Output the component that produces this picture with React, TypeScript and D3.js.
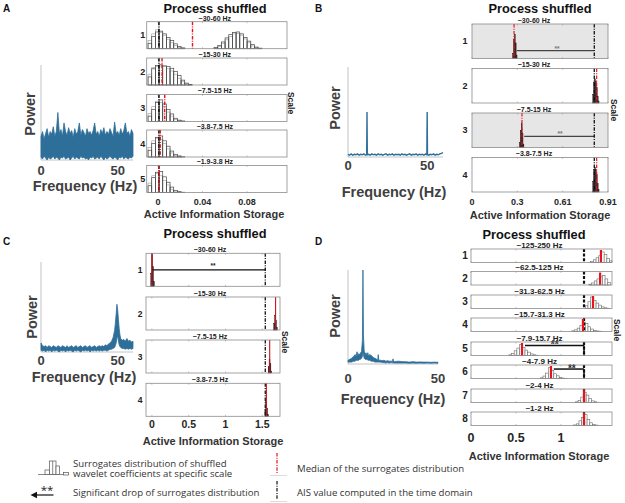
import React from 'react';
import * as d3 from 'd3';

const W = 625;
const H = 503;
const BLUE = '#2e6f9a';
const HELV = '"Liberation Sans", Arial, Helvetica, sans-serif';
const LEG = '"Open Sans", "DejaVu Sans", sans-serif';
const DASHDOT = '3.5,1.3,1,1.3';

// ---------- power spectra ----------
// A: white-noise like band, 1 Hz grid from 0 to 60 Hz
const specAHi = [0.25, 0.3, 0.22, 0.28, 0.33, 0.24, 0.3, 0.27, 0.35, 0.25,
  0.3, 0.5, 0.28, 0.32, 0.25, 0.39, 0.3, 0.26, 0.34, 0.28,
  0.31, 0.24, 0.33, 0.27, 0.3, 0.39, 0.26, 0.32, 0.29, 0.25,
  0.33, 0.28, 0.3, 0.26, 0.31, 0.39, 0.27, 0.3, 0.25, 0.32,
  0.28, 0.34, 0.26, 0.3, 0.27, 0.33, 0.29, 0.25, 0.4, 0.28,
  0.3, 0.26, 0.33, 0.27, 0.31, 0.39, 0.28, 0.3, 0.25, 0.32, 0.28];
const specALo = [0.03, 0.01, 0.04, 0.02, 0.0, 0.03, 0.01, 0.02, 0.04, 0.01,
  0.03, 0.02, 0.0, 0.03, 0.02, 0.04, 0.01, 0.02, 0.03, 0.0,
  0.02, 0.04, 0.01, 0.03, 0.02, 0.01, 0.04, 0.02, 0.03, 0.01,
  0.02, 0.0, 0.03, 0.02, 0.04, 0.01, 0.02, 0.03, 0.01, 0.04,
  0.02, 0.0, 0.03, 0.01, 0.02, 0.04, 0.02, 0.01, 0.03, 0.02,
  0.0, 0.03, 0.02, 0.04, 0.01, 0.03, 0.02, 0.01, 0.03, 0.02, 0.04];

// B: two sharp lines at ~12 and 50 Hz  [freq, power]
const specB: [number, number][] = [
  [0, 0.03], [1, 0.02], [2, 0.035], [3, 0.02], [4, 0.03], [5, 0.025], [6, 0.035], [7, 0.02], [8, 0.03], [9, 0.025],
  [10, 0.035], [11, 0.02], [11.8, 0.03], [12, 0.5], [12.2, 0.025], [13, 0.03], [14, 0.02], [15, 0.035], [16, 0.025],
  [17, 0.03], [18, 0.02], [19, 0.035], [20, 0.025], [21, 0.03], [22, 0.02], [23, 0.03], [24, 0.035], [25, 0.02],
  [26, 0.03], [27, 0.025], [28, 0.035], [29, 0.02], [30, 0.03], [31, 0.025], [32, 0.03], [33, 0.02], [34, 0.035],
  [35, 0.025], [36, 0.03], [37, 0.02], [38, 0.03], [39, 0.035], [40, 0.02], [41, 0.03], [42, 0.025], [43, 0.035],
  [44, 0.02], [45, 0.03], [46, 0.025], [47, 0.03], [48, 0.02], [49, 0.035], [49.8, 0.025], [50, 0.5], [50.2, 0.03],
  [51, 0.02], [52, 0.03], [53, 0.025], [54, 0.035], [55, 0.02], [56, 0.03], [57, 0.025], [58, 0.035], [59, 0.04], [60, 0.05],
];

// C: broad peak around 50 Hz  [freq, low, high]
const specC: [number, number, number][] = [
  [0, 0.02, 0.1], [1, 0.01, 0.07], [2, 0.02, 0.06], [3, 0.0, 0.07], [4, 0.02, 0.05], [5, 0.01, 0.07], [6, 0.02, 0.06],
  [7, 0.0, 0.05], [8, 0.02, 0.07], [9, 0.01, 0.06], [10, 0.02, 0.05], [11, 0.01, 0.07], [12, 0.0, 0.06], [13, 0.02, 0.05],
  [14, 0.01, 0.07], [15, 0.02, 0.06], [16, 0.0, 0.05], [17, 0.02, 0.07], [18, 0.01, 0.05], [19, 0.02, 0.06], [20, 0.01, 0.07],
  [21, 0.0, 0.05], [22, 0.02, 0.06], [23, 0.01, 0.07], [24, 0.02, 0.05], [25, 0.01, 0.06], [26, 0.0, 0.07], [27, 0.02, 0.05],
  [28, 0.01, 0.06], [29, 0.02, 0.07], [30, 0.01, 0.05], [31, 0.02, 0.06], [32, 0.0, 0.07], [33, 0.02, 0.05], [34, 0.01, 0.06],
  [35, 0.02, 0.07], [36, 0.01, 0.05], [37, 0.02, 0.06], [38, 0.01, 0.07], [39, 0.02, 0.06], [40, 0.01, 0.07], [41, 0.02, 0.06],
  [42, 0.02, 0.08], [43, 0.01, 0.07], [44, 0.02, 0.09], [45, 0.03, 0.1], [46, 0.03, 0.12], [47, 0.04, 0.16], [48, 0.05, 0.24],
  [48.5, 0.07, 0.32], [49, 0.1, 0.42], [49.5, 0.15, 0.53], [50, 0.18, 0.47], [50.5, 0.12, 0.36], [51, 0.08, 0.26],
  [51.5, 0.06, 0.19], [52, 0.05, 0.15], [53, 0.04, 0.13], [54, 0.04, 0.14], [55, 0.03, 0.12], [56, 0.04, 0.15],
  [57, 0.03, 0.12], [58, 0.04, 0.13], [59, 0.03, 0.11], [60, 0.04, 0.12],
];

// D: strong alpha peak ~8 Hz with harmonics  [freq, low, high]
const specD: [number, number, number][] = [
  [0, 0.02, 0.04], [1, 0.02, 0.05], [2, 0.02, 0.06], [3, 0.03, 0.08], [4, 0.03, 0.1], [4.5, 0.04, 0.08], [5, 0.04, 0.13],
  [5.5, 0.04, 0.09], [6, 0.04, 0.11], [6.5, 0.05, 0.1], [7, 0.05, 0.12], [7.5, 0.06, 0.13], [8, 0.08, 0.25], [8.3, 0.12, 1.0],
  [8.6, 0.1, 0.3], [9, 0.06, 0.14], [9.5, 0.05, 0.1], [10, 0.05, 0.12], [10.5, 0.05, 0.09], [11, 0.04, 0.12], [11.5, 0.04, 0.08],
  [12, 0.04, 0.1], [13, 0.03, 0.09], [14, 0.03, 0.07], [15, 0.02, 0.06], [16, 0.02, 0.05], [16.5, 0.02, 0.04], [16.8, 0.02, 0.1],
  [17.1, 0.02, 0.04], [18, 0.02, 0.04], [19, 0.015, 0.035], [20, 0.015, 0.04], [21, 0.01, 0.03], [22, 0.015, 0.035],
  [23, 0.01, 0.03], [24, 0.015, 0.03], [24.8, 0.01, 0.03], [25, 0.015, 0.055], [25.3, 0.01, 0.03], [26, 0.01, 0.025],
  [28, 0.01, 0.03], [30, 0.01, 0.025], [32, 0.01, 0.025], [34, 0.008, 0.02], [36, 0.01, 0.025], [38, 0.008, 0.02],
  [40, 0.01, 0.022], [42, 0.008, 0.02], [44, 0.01, 0.02], [46, 0.008, 0.018], [48, 0.01, 0.02], [50, 0.008, 0.018],
];

// ---------- surrogate histograms ----------
// A
const aTitles = ['~30-60 Hz', '~15-30 Hz', '~7.5-15 Hz', '~3.8-7.5 Hz', '~1.9-3.8 Hz'];
const aTicks = [0, 0.04, 0.08];
const aTickLabels = ['0', '0.04', '0.08'];
const aBinW = 0.0033;
const aStarts = [-0.009, -0.009, -0.009, -0.009, -0.009];
const aCounts = [
  [0.2, 0.45, 0.62, 0.65, 0.55, 0.42, 0.3, 0.18, 0.08, 0.03, 0, 0, 0, 0, 0, 0, 0, 0,
    0.04, 0.12, 0.25, 0.4, 0.52, 0.6, 0.62, 0.55, 0.42, 0.28, 0.15, 0.06, 0.02, 0],
  [0.3, 0.6, 0.72, 0.75, 0.7, 0.68, 0.62, 0.5, 0.35, 0.18, 0.07, 0.02],
  [0.2, 0.45, 0.7, 0.8, 0.65, 0.45, 0.28, 0.12, 0.05, 0.02],
  [0.25, 0.5, 0.72, 0.78, 0.6, 0.4, 0.22, 0.1, 0.04, 0.01],
  [0.25, 0.55, 0.75, 0.78, 0.58, 0.38, 0.2, 0.08, 0.03, 0.01],
];
const aCounts2 = [
  [0.3, 0.55, 0.7, 0.6, 0.5, 0.35, 0.22, 0.12, 0.05, 0.02, 0, 0, 0, 0, 0, 0, 0, 0,
    0.02, 0.08, 0.2, 0.33, 0.45, 0.55, 0.57, 0.5, 0.36, 0.22, 0.1, 0.04, 0.01, 0],
  [0.4, 0.65, 0.68, 0.7, 0.72, 0.6, 0.52, 0.4, 0.25, 0.12, 0.04, 0.01],
  [0.3, 0.55, 0.75, 0.7, 0.55, 0.35, 0.2, 0.08, 0.03, 0.01],
  [0.35, 0.6, 0.7, 0.65, 0.5, 0.3, 0.15, 0.06, 0.02, 0],
  [0.35, 0.62, 0.7, 0.62, 0.45, 0.28, 0.12, 0.05, 0.02, 0],
];
const aMedians = [0.031, 0.0036, 0.006, 0.002, 0.001];
const aAIS = 0.0008;

// B
const bTitles = ['~30-60 Hz', '~15-30 Hz', '~7.5-15 Hz', '~3.8-7.5 Hz'];
const bTicks = [0, 0.304, 0.608, 0.912];
const bTickLabels = ['0', '0.3', '0.61', '0.91'];
const bBinW = 0.006;
const bStarts = [0.272, 0.81, 0.318, 0.81];
const bCounts = [
  [0.15, 0.55, 0.7, 0.45, 0.1],
  [0.25, 0.6, 0.7, 0.62, 0.45, 0.2, 0.06],
  [0.15, 0.5, 0.7, 0.4, 0.1],
  [0.3, 0.65, 0.72, 0.65, 0.5, 0.25, 0.08],
];
const bMedians = [0.282, 0.836, 0.335, 0.836];
const bAIS = 0.82;
const bDropFrom = [0.3, null, 0.35, null];
const bStars = [0.57, null, 0.59, null];
const bSignificant = [true, false, true, false];

// C
const cTitles = ['~30-60 Hz', '~15-30 Hz', '~7.5-15 Hz', '~3.8-7.5 Hz'];
const cTicks = [0, 0.5, 1, 1.5];
const cTickLabels = ['0', '0.5', '1', '1.5'];
const cBinW = 0.012;
const cStarts = [-0.015, 1.655, 1.58, 1.535];
const cCounts = [
  [0.4, 1.0, 0.6, 0.15],
  [0.2, 0.45, 0.3, 0.08],
  [0.2, 0.42, 0.28, 0.06],
  [0.22, 0.45, 0.25, 0.06],
];
const cMedians = [0, 1.68, 1.6, 1.555];
const cAIS = 1.54;
const cDropFrom = [0, null, null, null];
const cStars = [0.83, null, null, null];

// D
const dTitles = ['~125-250 Hz', '~62.5-125 Hz', '~31.3-62.5 Hz', '~15.7-31.3 Hz',
  '~7.9-15.7 Hz', '~4-7.9 Hz', '~2-4 Hz', '~1-2 Hz'];
const dTicks = [0, 0.5, 1];
const dTickLabels = ['0', '0.5', '1'];
const dBinW = 0.03;
const dStarts = [1.33, 1.31, 1.27, 1.12, 0.42, 0.77, 1.16, 1.14];
const dCounts = [
  [0.08, 0.2, 0.35, 0.5, 0.78, 0.6, 0.3, 0.12],
  [0.06, 0.15, 0.3, 0.45, 0.6, 0.7, 0.45, 0.2],
  [0.2, 0.5, 0.85, 0.6, 0.4, 0.25, 0.12, 0.05, 0.02],
  [0.05, 0.12, 0.25, 0.45, 0.7, 0.6, 0.35, 0.18, 0.08, 0.04, 0.02],
  [0.05, 0.15, 0.35, 0.55, 0.8, 0.6, 0.4, 0.25, 0.12, 0.05, 0.02],
  [0.05, 0.18, 0.4, 0.8, 0.6, 0.35, 0.2, 0.08, 0.03, 0.01],
  [0.05, 0.15, 0.4, 0.75, 0.55, 0.3, 0.12, 0.05],
  [0.04, 0.12, 0.35, 0.6, 0.8, 0.45, 0.2, 0.08, 0.03],
];
const dMedians = [1.444, 1.435, 1.356, 1.244, 0.567, 0.889, 1.256, 1.256];
const dAIS = 1.256;
const dDropFrom = [null, null, null, null, 0.6, 0.92, null, null];
const dStars = [null, null, null, null, 0.93, 1.12, null, null];

type Look = 'outline' | 'dark' | 'darkSolid' | 'thick';

interface StackProps {
  left: number; right: number; tops: number[]; h: number;
  domain: [number, number];
  ticks: number[]; tickLabels: string[]; tickY: number; tickSize: number;
  titles: string[]; titleSize: number; titleDx: number;
  rowSize: number; rowDx: number;
  binW: number; starts: number[]; counts: number[][]; counts2?: number[][];
  medians: number[]; ais: number;
  drops?: (number | null)[]; dropY?: number[]; stars?: (number | null)[];
  shaded?: boolean[];
  look: Look;
  header: [number, number]; xlabel: [number, number]; scale: [number, number];
}

function HistStack(p: StackProps) {
  const x = d3.scaleLinear().domain(p.domain).range([p.left, p.right]);
  const w = p.right - p.left;
  const cx = (p.left + p.right) / 2;

  const medStyle = {
    outline: { stroke: '#e8141c', width: 1.4, dash: DASHDOT },
    dark: { stroke: '#e8141c', width: 1.2, dash: DASHDOT },
    darkSolid: { stroke: '#c8141c', width: 1.1, dash: undefined },
    thick: { stroke: '#e8141c', width: 2.2, dash: undefined },
  }[p.look];
  const aisStyle = {
    outline: { width: 1.6, dash: DASHDOT },
    dark: { width: 1.3, dash: DASHDOT },
    darkSolid: { width: 1.3, dash: DASHDOT },
    thick: { width: 2.2, dash: '3,1.6' },
  }[p.look];

  const bars = (cnts: number[], start: number, bottom: number, fill: string, stroke: string, sw: number) =>
    cnts.map((c, i) => {
      if (c <= 0) return null;
      const x0 = x(start + i * p.binW);
      const x1 = Math.min(x(start + (i + 1) * p.binW), p.right);
      return (
        <rect key={i} x={x0} y={bottom - c * p.h} width={Math.max(0.3, x1 - x0)} height={c * p.h}
          fill={fill} stroke={stroke} strokeWidth={sw} />
      );
    });

  return (
    <g fontFamily={HELV}>
      <text x={p.header[0]} y={p.header[1]} textAnchor="middle" fontSize={12.8} fontWeight="bold" fill="#111">
        Process shuffled
      </text>
      {p.tops.map((top, k) => {
        const bottom = top + p.h;
        const drop = p.drops ? p.drops[k] : null;
        const star = p.stars ? p.stars[k] : null;
        const barY = top + (p.dropY ? p.dropY[k] : 0.5) * p.h;
        return (
          <g key={k}>
            <rect x={p.left} y={top} width={w} height={p.h}
              fill={p.shaded && p.shaded[k] ? '#e6e6e6' : '#fff'} />
            {p.look === 'outline' && p.counts2 && bars(p.counts2[k], p.starts[k], bottom, 'none', '#a8a8a8', 0.7)}
            {p.look === 'outline' && bars(p.counts[k], p.starts[k], bottom, 'none', '#4a4a4a', 0.7)}
            {(p.look === 'dark' || p.look === 'darkSolid') &&
              bars(p.counts[k], p.starts[k], bottom, '#4a1c1c', '#1a1a1a', 0.4)}
            {p.look === 'thick' && bars(p.counts[k], p.starts[k], bottom, '#fff', '#6a6a6a', 0.6)}
            {drop !== null && drop !== undefined && (
              <line x1={x(drop)} x2={x(p.ais)} y1={barY} y2={barY}
                stroke={p.look === 'dark' ? '#444' : '#111'} strokeWidth={p.look === 'thick' ? 1.5 : 1.3} />
            )}
            {drop !== null && drop !== undefined && p.look === 'thick' && (
              <line x1={x(p.ais)} x2={x(p.ais)} y1={barY} y2={bottom} stroke="#111" strokeWidth={1.5} />
            )}
            {star !== null && star !== undefined && (
              <text x={x(star)} y={p.look === 'thick' ? barY + 3 : p.look === 'darkSolid' ? barY - 2 : barY}
                textAnchor="middle" fontSize={p.look === 'thick' ? 10 : 6.5} fontWeight="bold"
                fill={p.look === 'dark' ? '#777' : '#222'}>**</text>
            )}
            <line x1={x(p.ais)} x2={x(p.ais)} y1={top} y2={bottom} stroke="#111"
              strokeWidth={aisStyle.width} strokeDasharray={aisStyle.dash} />
            <line x1={x(p.medians[k])} x2={x(p.medians[k])} y1={top + (p.look === 'thick' ? 1 : 0)} y2={bottom}
              stroke={medStyle.stroke} strokeWidth={medStyle.width} strokeDasharray={medStyle.dash} />
            {p.ticks.map((t, i) => (
              <g key={i} stroke="#8c8c8c" strokeWidth={0.5}>
                <line x1={x(t)} x2={x(t)} y1={top} y2={top + 1.5} />
                <line x1={x(t)} x2={x(t)} y1={bottom - 1.5} y2={bottom} />
              </g>
            ))}
            <rect x={p.left} y={top} width={w} height={p.h} fill="none" stroke="#8c8c8c" strokeWidth={0.8} />
            <text x={cx + p.titleDx} y={top - 1.2} textAnchor="middle" fontSize={p.titleSize} fontWeight="bold" fill="#222">
              {p.titles[k]}
            </text>
            <text x={p.left - p.rowDx} y={top + p.h / 2 + p.rowSize * 0.36} textAnchor="middle"
              fontSize={p.rowSize} fontWeight="bold" fill="#222">{k + 1}</text>
          </g>
        );
      })}
      {p.ticks.map((t, i) => (
        <text key={i} x={x(t)} y={p.tickY} textAnchor="middle" fontSize={p.tickSize} fontWeight="bold" fill="#262626">
          {p.tickLabels[i]}
        </text>
      ))}
      <text x={p.xlabel[0]} y={p.xlabel[1]} textAnchor="middle" fontSize={11} fontWeight="bold" fill="#333">
        Active Information Storage
      </text>
      <text transform={`translate(${p.scale[0]},${p.scale[1]}) rotate(90)`} textAnchor="middle"
        fontSize={8.5} fontWeight="bold" fill="#222">Scale</text>
    </g>
  );
}

interface SpecProps {
  left: number; right: number; top: number; bottom: number; fmax: number;
  band?: [number, number, number][]; line?: [number, number][];
  tickY: number; labelX: number; labelY: number; powerX: number; powerY: number;
}

function Spectrum(p: SpecProps) {
  const x = d3.scaleLinear().domain([0, p.fmax]).range([p.left, p.right]);
  const y = d3.scaleLinear().domain([0, 1]).range([p.bottom, p.top]);
  const area = d3.area<[number, number, number]>().x(d => x(d[0])).y0(d => y(d[1])).y1(d => y(d[2]));
  const line = d3.line<[number, number]>().x(d => x(d[0])).y(d => y(d[1]));
  return (
    <g fontFamily={HELV}>
      <line x1={p.left} x2={p.left} y1={p.top} y2={p.bottom} stroke="#b4b4b4" strokeWidth={0.8} />
      <line x1={p.left} x2={p.right} y1={p.bottom} y2={p.bottom} stroke="#b4b4b4" strokeWidth={0.8} />
      {p.band && <path d={area(p.band) || ''} fill={BLUE} stroke={BLUE} strokeWidth={0.8} strokeLinejoin="miter" />}
      {p.line && <path d={line(p.line) || ''} fill="none" stroke={BLUE} strokeWidth={1.4} />}
      {[0, 50].map(t => (
        <text key={t} x={x(t)} y={p.tickY} textAnchor="middle" fontSize={13} fontWeight="bold" fill="#404040">{t}</text>
      ))}
      <text x={p.labelX} y={p.labelY} textAnchor="middle" fontSize={14.5} fontWeight="bold" fill="#404040">
        Frequency (Hz)
      </text>
      <text transform={`translate(${p.powerX},${p.powerY}) rotate(-90)`} textAnchor="middle"
        fontSize={14.5} fontWeight="bold" fill="#404040">Power</text>
    </g>
  );
}

export default function App() {
  const bandA: [number, number, number][] = specAHi.map((hi, i) => [i, specALo[i], hi]);
  return (
    <svg width={W} height={H} style={{ position: 'absolute', left: 0, top: 0, background: '#fff' }}>
      <rect width={W} height={H} fill="#fff" />
      <g fontFamily={HELV} fontWeight="bold" fontSize={10} fill="#111">
        <text x={3} y={12}>A</text>
        <text x={315} y={12}>B</text>
        <text x={3} y={245}>C</text>
        <text x={315} y={245}>D</text>
      </g>

      <Spectrum left={41} right={133} top={65} bottom={160} fmax={60} band={bandA}
        tickY={175} labelX={85} labelY={191} powerX={35} powerY={114} />
      <Spectrum left={348} right={443} top={67} bottom={157} fmax={60} line={specB}
        tickY={170} labelX={394} labelY={197} powerX={340} powerY={108} />
      <Spectrum left={41} right={133} top={262} bottom={352} fmax={60} band={specC}
        tickY={365} labelX={84} labelY={382} powerX={37} powerY={317} />
      <Spectrum left={348} right={438} top={270} bottom={364} fmax={50} band={specD}
        tickY={383} labelX={393} labelY={404} powerX={340} powerY={316} />

      <HistStack left={146.7} right={287} tops={[21.7, 58, 94.5, 130, 165.5]} h={27}
        domain={[-0.0102, 0.116]} ticks={aTicks} tickLabels={aTickLabels} tickY={205} tickSize={9}
        titles={aTitles} titleSize={7} titleDx={-2} rowSize={9} rowDx={4}
        binW={aBinW} starts={aStarts} counts={aCounts} counts2={aCounts2}
        medians={aMedians} ais={aAIS} look="outline"
        header={[215, 13]} xlabel={[214, 218]} scale={[288, 103]} />

      <HistStack left={472} right={608} tops={[24, 68.5, 113, 157.5]} h={34.5}
        domain={[0, 0.912]} ticks={bTicks} tickLabels={bTickLabels} tickY={205} tickSize={9}
        titles={bTitles} titleSize={7} titleDx={-6} rowSize={9} rowDx={7}
        binW={bBinW} starts={bStarts} counts={bCounts}
        medians={bMedians} ais={bAIS} drops={bDropFrom} dropY={[0.77, 0, 0.68, 0]} stars={bStars}
        shaded={bSignificant} look="dark"
        header={[540, 13]} xlabel={[540, 219]} scale={[611, 110]} />

      <HistStack left={146} right={280} tops={[253.3, 297, 340, 383.3]} h={33}
        domain={[-0.08, 1.74]} ticks={cTicks} tickLabels={cTickLabels} tickY={428} tickSize={10.5}
        titles={cTitles} titleSize={7} titleDx={-3} rowSize={8.5} rowDx={6}
        binW={cBinW} starts={cStarts} counts={cCounts}
        medians={cMedians} ais={cAIS} drops={cDropFrom} dropY={[0.5, 0, 0, 0]} stars={cStars}
        look="darkSolid"
        header={[215, 238]} xlabel={[213, 445]} scale={[282, 342]} />

      <HistStack left={471} right={612} tops={[249, 271.5, 295, 318, 342, 365, 389, 412]} h={13.5}
        domain={[0, 1.567]} ticks={dTicks} tickLabels={dTickLabels} tickY={442} tickSize={12.5}
        titles={dTitles} titleSize={8} titleDx={-2} rowSize={10} rowDx={6}
        binW={dBinW} starts={dStarts} counts={dCounts}
        medians={dMedians} ais={dAIS} drops={dDropFrom} dropY={[0, 0, 0, 0, 0.25, 0.3, 0, 0]} stars={dStars}
        look="thick"
        header={[534, 239]} xlabel={[539, 460]} scale={[614, 330]} />

      {/* legend */}
      <g stroke="#555" strokeWidth={0.7} fill="#fff">
        <line x1={38} x2={68.5} y1={474.5} y2={474.5} />
        <rect x={45} y={470} width={4.5} height={4.5} />
        <rect x={49.5} y={461} width={6.5} height={13.5} />
        <line x1={52.7} x2={52.7} y1={461} y2={474.5} />
        <rect x={56} y={466} width={3.5} height={8.5} />
        <rect x={63.5} y={472.5} width={5} height={2.5} />
      </g>
      <line x1={35} x2={53.5} y1={495} y2={495} stroke="#111" strokeWidth={1.2} />
      <path d="M30.5,495 L37,491.8 L37,498.2 Z" fill="#111" />
      <text x={47} y={494} textAnchor="middle" fontFamily={LEG} fontSize={11.5} fill="#222">**</text>
      <line x1={277} x2={277} y1={453} y2={474} stroke="#e8141c" strokeWidth={1.2} strokeDasharray={DASHDOT} />
      <line x1={270} x2={287} y1={475.5} y2={475.5} stroke="#cfcfcf" strokeWidth={0.7} />
      <line x1={277} x2={277} y1={481} y2={500} stroke="#111" strokeWidth={1.2} strokeDasharray={DASHDOT} />
      <line x1={270} x2={287} y1={501.5} y2={501.5} stroke="#cfcfcf" strokeWidth={0.7} />
      <g fontFamily={LEG} fontSize={9.6} fill="#333">
        <text x={73} y={467}>Surrogates distribution of shuffled</text>
        <text x={73} y={476.5}>wavelet coefficients at specific scale</text>
        <text x={73} y={495.5}>Significant drop of surrogates distribution</text>
        <text x={297} y={472}>Median of the surrogates distribution</text>
        <text x={297} y={495.5}>AIS value computed in the time domain</text>
      </g>
    </svg>
  );
}
